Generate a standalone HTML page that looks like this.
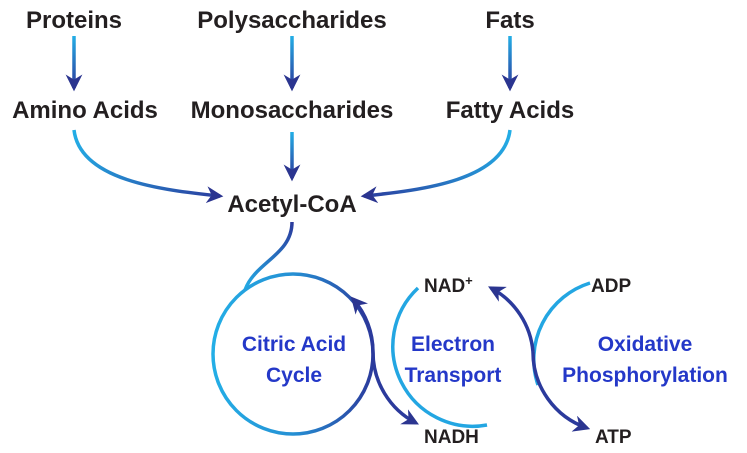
<!DOCTYPE html>
<html><head><meta charset="utf-8"><style>
html,body{margin:0;padding:0;background:#fff;}
svg{display:block}
</style></head><body>
<svg width="747" height="453" viewBox="0 0 747 453" xmlns="http://www.w3.org/2000/svg">
<defs>
<linearGradient id="v1" gradientUnits="userSpaceOnUse" x1="0" y1="36" x2="0" y2="88"><stop offset="0" stop-color="#23aee6"/><stop offset="1" stop-color="#2b3a9c"/></linearGradient>
<linearGradient id="v2" gradientUnits="userSpaceOnUse" x1="0" y1="132" x2="0" y2="178"><stop offset="0" stop-color="#23aee6"/><stop offset="1" stop-color="#2b3a9c"/></linearGradient>
<linearGradient id="gl" gradientUnits="userSpaceOnUse" x1="74" y1="130" x2="222" y2="197"><stop offset="0" stop-color="#23aee6"/><stop offset="1" stop-color="#2b3a9c"/></linearGradient>
<linearGradient id="gr" gradientUnits="userSpaceOnUse" x1="510" y1="130" x2="362" y2="197"><stop offset="0" stop-color="#23aee6"/><stop offset="1" stop-color="#2b3a9c"/></linearGradient>
<linearGradient id="ga" gradientUnits="userSpaceOnUse" x1="292" y1="222" x2="245" y2="290"><stop offset="0" stop-color="#2b3a9c"/><stop offset="1" stop-color="#23aee6"/></linearGradient>
<linearGradient id="c1" gradientUnits="userSpaceOnUse" x1="213" y1="0" x2="373" y2="0"><stop offset="0" stop-color="#23aee6"/><stop offset="0.5" stop-color="#2590d4"/><stop offset="1" stop-color="#2b3a9c"/></linearGradient>
<marker id="ah" viewBox="0 0 10 10" refX="8" refY="5" markerWidth="4.8" markerHeight="4.8" orient="auto"><path d="M0,0 L10,5 L0,10 L3,5 z" fill="#2b3590"/></marker>
</defs>
<g font-family="Liberation Sans, sans-serif" font-weight="bold" font-size="24" fill="#231f20" text-anchor="middle">
<text x="74" y="28">Proteins</text>
<text x="292" y="28">Polysaccharides</text>
<text x="510" y="28">Fats</text>
<text x="85" y="118">Amino Acids</text>
<text x="292" y="118">Monosaccharides</text>
<text x="510" y="118">Fatty Acids</text>
<text x="292" y="212">Acetyl-CoA</text>
</g>
<g fill="none" stroke-width="3.5">
<path d="M74,36 L74,88" stroke="url(#v1)" marker-end="url(#ah)"/>
<path d="M292,36 L292,88" stroke="url(#v1)" marker-end="url(#ah)"/>
<path d="M510,36 L510,88" stroke="url(#v1)" marker-end="url(#ah)"/>
<path d="M292,132 L292,178" stroke="url(#v2)" marker-end="url(#ah)"/>
<path d="M74,130 C80,180 160,190 220,196" stroke="url(#gl)" marker-end="url(#ah)"/>
<path d="M510,130 C504,180 424,190 364,196" stroke="url(#gr)" marker-end="url(#ah)"/>
<path d="M292,222 C292,255 255,262 245,290" stroke="url(#ga)"/>
<circle cx="293" cy="354" r="80" stroke="url(#c1)"/>
<path d="M418,288 A80,80 0 0 0 487,425" stroke="#23a6e2"/>
<path d="M590,283 A80,80 0 0 0 538,385" stroke="#23a6e2"/>
<g stroke="#2b3a9c">
<path d="M373,352 A80,80 0 0 0 353,299" marker-end="url(#ah)"/>
<path d="M373,352 A80,80 0 0 0 416,423" marker-end="url(#ah)"/>
<path d="M533,352 A80,80 0 0 0 491,288" marker-end="url(#ah)"/>
<path d="M533,352 A80,80 0 0 0 587,428" marker-end="url(#ah)"/>
</g>
</g>
<g font-family="Liberation Sans, sans-serif" font-weight="bold" font-size="21" fill="#2438c8" text-anchor="middle">
<text x="294" y="351">Citric Acid</text>
<text x="294" y="382">Cycle</text>
<text x="453" y="351">Electron</text>
<text x="453" y="382">Transport</text>
<text x="645" y="351">Oxidative</text>
<text x="645" y="382">Phosphorylation</text>
</g>
<g font-family="Liberation Sans, sans-serif" font-weight="bold" font-size="19" fill="#231f20">
<text x="424" y="292">NAD<tspan font-size="13" dy="-7">+</tspan></text>
<text x="591" y="292">ADP</text>
<text x="424" y="443">NADH</text>
<text x="595" y="443">ATP</text>
</g>
</svg>
</body></html>
